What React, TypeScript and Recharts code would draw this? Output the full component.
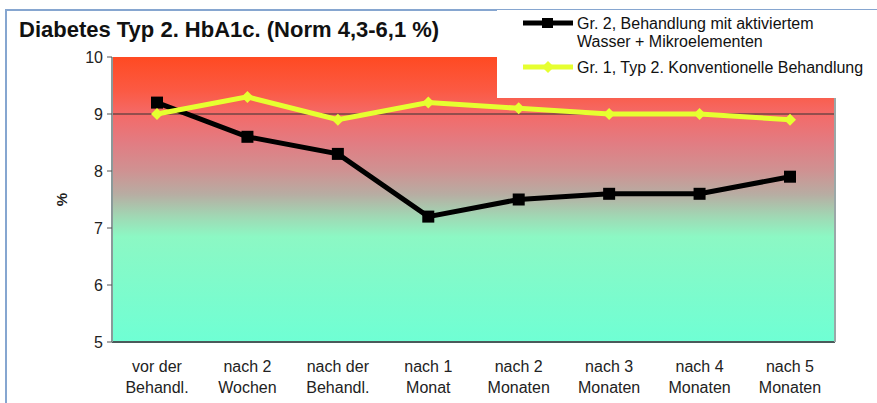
import React from 'react';
import { LineChart, Line, XAxis, YAxis, CartesianGrid, ReferenceLine, Legend } from 'recharts';

const categoriesLine1 = ['vor der', 'nach 2', 'nach der', 'nach 1', 'nach 2', 'nach 3', 'nach 4', 'nach 5'];
const categoriesLine2 = ['Behandl.', 'Wochen', 'Behandl.', 'Monat', 'Monaten', 'Monaten', 'Monaten', 'Monaten'];
const gr2Values = [9.2, 8.6, 8.3, 7.2, 7.5, 7.6, 7.6, 7.9];
const gr1Values = [9.0, 9.3, 8.9, 9.2, 9.1, 9.0, 9.0, 8.9];
const yTicks = [5, 6, 7, 8, 9, 10];
const gr2Name = 'Gr. 2, Behandlung mit aktiviertem Wasser + Mikroelementen';
const gr2NameLines = ['Gr. 2, Behandlung mit aktiviertem', 'Wasser + Mikroelementen'];
const gr1Name = 'Gr. 1, Typ 2. Konventionelle Behandlung';
const titleText = 'Diabetes Typ 2. HbA1c. (Norm 4,3-6,1 %)';

const data = categoriesLine1.map((c, i) => ({
  key: c + '|' + categoriesLine2[i],
  l1: c,
  l2: categoriesLine2[i],
  gr2: gr2Values[i],
  gr1: gr1Values[i],
}));

const FONT = '"Liberation Sans", Arial, sans-serif';
const BLACK = '#000000';
const YELLOW = '#E6FF30';

const SquareDot = (props: any) => {
  const { cx, cy, index } = props;
  if (cx == null || cy == null) return <g key={'s' + index} />;
  return <rect key={'s' + index} x={cx - 6} y={cy - 6} width={12} height={12} fill={BLACK} />;
};

const DiamondDot = (props: any) => {
  const { cx, cy, index } = props;
  if (cx == null || cy == null) return <g key={'d' + index} />;
  const r = 6;
  return (
    <path
      key={'d' + index}
      d={`M${cx},${cy - r} L${cx + r},${cy} L${cx},${cy + r} L${cx - r},${cy} Z`}
      fill={YELLOW}
    />
  );
};

const XTick = (props: any) => {
  const { x, y, payload } = props;
  const idx = data.findIndex((d) => d.key === payload.value);
  const d = data[idx];
  return (
    <g>
      <text x={x} y={y + 22} textAnchor="middle" fontFamily={FONT} fontSize={16} fill="#222">
        {d ? d.l1 : ''}
      </text>
      <text x={x} y={y + 43} textAnchor="middle" fontFamily={FONT} fontSize={16} fill="#222">
        {d ? d.l2 : ''}
      </text>
    </g>
  );
};

const LegendContent = () => {
  const items = [
    { color: BLACK, lines: gr2NameLines, marker: 'square' },
    { color: YELLOW, lines: [gr1Name], marker: 'diamond' },
  ];
  return (
    <div style={{ position: 'relative', width: '100%', height: '100%' }}>
      {items.map((it, i) => (
        <div
          key={i}
          style={{
            position: 'absolute',
            left: 26,
            top: i === 0 ? 5 : 49,
            display: 'flex',
            alignItems: 'flex-start',
          }}
        >
          <svg width={52} height={16}>
            <line x1={0} y1={8} x2={50} y2={8} stroke={it.color} strokeWidth={5} />
            {it.marker === 'square' ? (
              <rect x={19} y={3} width={11} height={10} fill={it.color} />
            ) : (
              <path d="M25,2 L31,8 L25,14 L19,8 Z" fill={it.color} />
            )}
          </svg>
          <div style={{ fontFamily: FONT, fontSize: 16, lineHeight: '18px', color: '#111', marginLeft: 2 }}>
            {it.lines.map((l, j) => (
              <div key={j} style={{ whiteSpace: 'nowrap' }}>{l}</div>
            ))}
          </div>
        </div>
      ))}
    </div>
  );
};

export default function App() {
  return (
    <div style={{ position: 'absolute', left: 0, top: 0, width: 877, height: 403, background: '#fff', overflow: 'hidden' }}>
      <div
        style={{
          position: 'absolute',
          left: 5,
          top: 9,
          width: 900,
          height: 420,
          borderTop: '2px solid #86a6d0',
          borderLeft: '2px solid #86a6d0',
        }}
      />
      <LineChart
        width={877}
        height={403}
        data={data}
        margin={{ top: 57, right: 41, left: 0, bottom: 0 }}
        style={{ position: 'absolute', left: 0, top: 0 }}
      >
        <defs>
          <linearGradient id="bgGrad" x1="0" y1="0" x2="0" y2="1">
            <stop offset="0" stopColor="#FF4A22" />
            <stop offset="0.12" stopColor="#FB5A44" />
            <stop offset="0.2" stopColor="#F46A68" />
            <stop offset="0.3" stopColor="#E27C82" />
            <stop offset="0.4" stopColor="#CF9292" />
            <stop offset="0.48" stopColor="#B8ACA2" />
            <stop offset="0.56" stopColor="#A0D8B4" />
            <stop offset="0.63" stopColor="#8CF8C4" />
            <stop offset="1" stopColor="#6FFFD4" />
          </linearGradient>
        </defs>
        <CartesianGrid horizontal={false} vertical={false} fill="url(#bgGrad)" fillOpacity={1} yAxisId="l" />
        <XAxis
          dataKey="key"
          height={61}
          padding={{ left: 45, right: 45 }}
          tickLine={false}
          axisLine={{ stroke: '#4a5a5a', strokeWidth: 2 }}
          tick={<XTick />}
          interval={0}
        />
        <YAxis
          yAxisId="l"
          width={112}
          domain={[5, 10]}
          ticks={yTicks}
          allowDataOverflow
          tickSize={5}
          tickMargin={4}
          axisLine={{ stroke: '#8a9a9a', strokeWidth: 2 }}
          tickLine={{ stroke: '#555' }}
          tick={{ fontFamily: FONT, fontSize: 16, fill: '#222' }}
          label={{ value: '%', angle: -90, position: 'center', dx: 6, fontFamily: FONT, fontSize: 15, fontWeight: 'bold', fill: '#222' }}
        />
        <YAxis
          yAxisId="r"
          orientation="right"
          width={1}
          domain={[5, 10]}
          ticks={yTicks}
          tick={false}
          tickLine={false}
          axisLine={{ stroke: '#9aa8a8', strokeWidth: 2 }}
        />
        <ReferenceLine yAxisId="l" y={9} stroke="#333" strokeWidth={1} />
        <Legend
          layout="vertical"
          align="center"
          verticalAlign="middle"
          content={<LegendContent />}
          wrapperStyle={{ position: 'absolute', left: 497, top: 10, width: 380, height: 88, background: '#fff' }}
        />
        <Line
          yAxisId="l"
          name={gr2Name}
          dataKey="gr2"
          stroke={BLACK}
          strokeWidth={5}
          dot={SquareDot}
          activeDot={false}
          isAnimationActive={false}
        />
        <Line
          yAxisId="l"
          name={gr1Name}
          dataKey="gr1"
          stroke={YELLOW}
          strokeWidth={5}
          dot={DiamondDot}
          activeDot={false}
          isAnimationActive={false}
        />
      </LineChart>
      <div
        style={{
          position: 'absolute',
          left: 19,
          top: 19,
          fontFamily: FONT,
          fontWeight: 'bold',
          fontSize: 22,
          lineHeight: '21px',
          color: '#111',
          whiteSpace: 'nowrap',
        }}
      >
        {titleText}
      </div>
    </div>
  );
}
